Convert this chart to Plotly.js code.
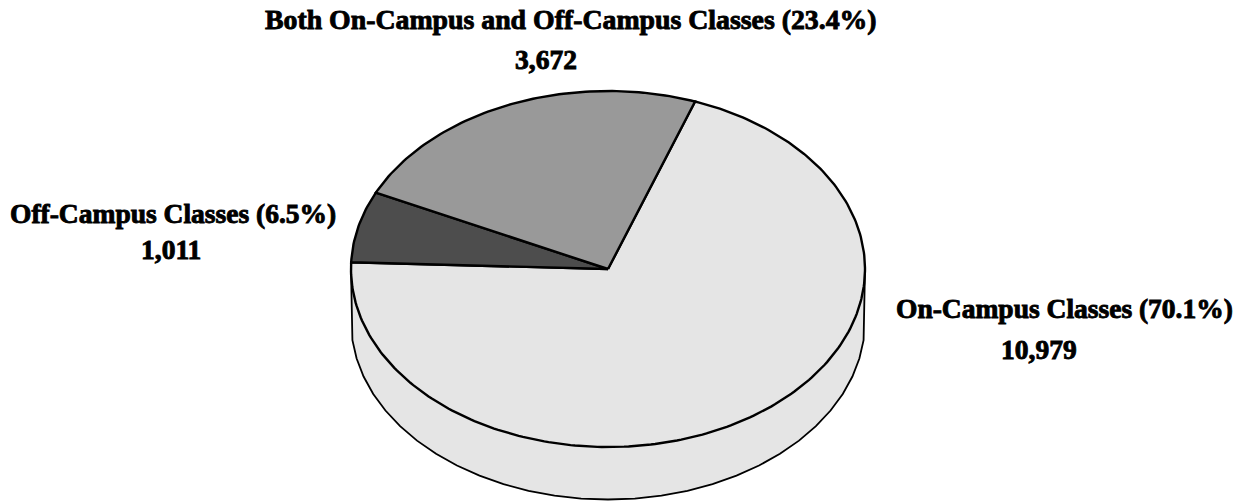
<!DOCTYPE html>
<html><head><meta charset="utf-8">
<script src="https://cdn.plot.ly/plotly-3.0.0.min.js"></script>
<style>html,body{margin:0;padding:0;background:#fff}#c{width:1244px;height:501px}
.annotation-text{stroke:#000;stroke-width:0.9px}</style>
</head><body><div id="c"></div>
<script>
const categories = ["On-Campus Classes", "Off-Campus Classes", "Both On-Campus and Off-Campus Classes"];
const values = [10979, 1011, 3672];
const valueLabels = ["10,979", "1,011", "3,672"];
const percents = ["70.1%", "6.5%", "23.4%"];
const sliceColors = ["#e5e5e5", "#4d4d4d", "#999999"];
const startAngleDeg = 19.8;
const depth = 0.295;

const total = values.reduce((a,b)=>a+b,0);
const rad = d => d*Math.PI/180;
const traces = [];

// side wall, lower half of the disc, drawn with slight facets
const wallX=[1], wallY=[0];
for (let a=96; a<=264; a+=6){ wallX.push(Math.sin(rad(a))); wallY.push(Math.cos(rad(a))-depth); }
wallX.push(-1); wallY.push(0);
traces.push({type:"scatter",mode:"lines",x:wallX,y:wallY,fill:"toself",fillcolor:"#e5e5e5",
  line:{color:"#000",width:1.8},hoverinfo:"skip",showlegend:false});

let ang = startAngleDeg;
values.forEach((v,i)=>{
  const sweep = v/total*360, x=[0], y=[0];
  const n = Math.ceil(sweep);
  for(let k=0;k<=n;k++){ const a=ang+sweep*k/n; x.push(Math.sin(rad(a))); y.push(Math.cos(rad(a))); }
  x.push(0); y.push(0);
  traces.push({type:"scatter",mode:"lines",name:categories[i],x,y,fill:"toself",fillcolor:sliceColors[i],
    line:{color:"#000",width:2.4},showlegend:false,hoverinfo:"name"});
  ang += sweep;
});

const fontFor = s => ({family:"'Liberation Serif', serif",size:s,color:"#000",weight:700});
const note = (text,px,py,s)=>({xref:"paper",yref:"paper",x:px/1244,y:1-py/501,xanchor:"center",yanchor:"middle",
  showarrow:false,align:"center",font:fontFor(s),text});
const nameLine = i => categories[i]+" ("+percents[i]+")";

const layout = {
  width:1244,height:501,margin:{l:0,r:0,t:0,b:0},paper_bgcolor:"#fff",plot_bgcolor:"#fff",showlegend:false,
  xaxis:{visible:false,range:[-608/257,636/257],fixedrange:true},
  yaxis:{visible:false,range:[-232/178,269/178],fixedrange:true},
  annotations:[
    note(nameLine(2),571,20,27.8), note(valueLabels[2],546,59,27.5),
    note(nameLine(0),1064,308,27.5), note(valueLabels[0],1039,349,27.5),
    note(nameLine(1),173,213,27.5), note(valueLabels[1],171,249,27.5)
  ]
};
Plotly.newPlot("c",traces,layout,{displayModeBar:false,responsive:false});
</script></body></html>
